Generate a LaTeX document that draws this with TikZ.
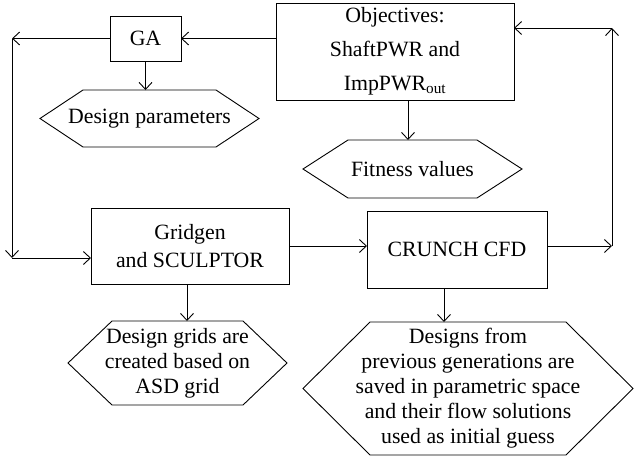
\documentclass[tikz,border=0pt]{standalone}
\usepackage{fontspec}
\setmainfont{Liberation Serif}
\usetikzlibrary{arrows.meta,calc}
\newcommand\dfont{\fontsize{21.8}{25}\selectfont}
\newcommand\hexpath[2]{\draw[hexline] (#1.west) -- ($(#1.north west)+(#2,0)$) -- ($(#1.north east)+(-#2,0)$) -- (#1.east) -- ($(#1.south east)+(-#2,0)$) -- ($(#1.south west)+(#2,0)$) -- cycle;}
\begin{document}
\begin{tikzpicture}[x=1pt,y=1pt,
  box/.style={draw, line width=0.9pt, inner sep=0pt, outer sep=0pt, align=center, font=\dfont},
  hexn/.style={inner sep=0pt, outer sep=0pt, align=center, font=\dfont},
  arr/.style={line width=0.9pt, -{Straight Barb[length=7pt,width=13pt]}},
  hexline/.style={line width=0.9pt, line join=miter}]
\useasboundingbox (0,0) rectangle (634,-456);
% boxes
\node[box, minimum width=71pt, minimum height=45pt] (ga) at (145.5,-38.5) {GA};
\node[box, minimum width=238pt, minimum height=97pt, font=\fontsize{21.8}{34}\selectfont] (obj) at (395,-51.5) {Objectives:\\ShaftPWR and\\ImpPWR\textsubscript{out}};
\node[box, minimum width=198pt, minimum height=76pt, font=\fontsize{21.8}{28}\selectfont] (grid) at (190,-246) {Gridgen\\and SCULPTOR};
\node[box, minimum width=180pt, minimum height=77pt] (cfd) at (457,-249.5) {CRUNCH CFD};
% hexagons
\node[hexn, minimum width=219pt, minimum height=57pt] (dp) at (149.5,-118.5) {Design parameters};
\hexpath{dp}{43}
\node[hexn, minimum width=219pt, minimum height=58pt] (fv) at (412.5,-169) {Fitness values};
\hexpath{fv}{45}
\node[hexn, minimum width=219pt, minimum height=84pt] (dg) at (177.5,-363) {Design grids are\\created based on\\ASD grid};
\hexpath{dg}{44}
\node[hexn, minimum width=330pt, minimum height=133pt] (df) at (468,-388.5) {Designs from\\previous generations are\\saved in parametric space\\and their flow solutions\\used as initial guess};
\hexpath{df}{67}
% helper coordinates
\coordinate (c1) at (12,-38.5);
\coordinate (c2) at (12,-258);
\coordinate (c3) at (612,-246);
\coordinate (c4) at (612,-28);
\coordinate (xfv) at (408,0);
\coordinate (xdg) at (187,0);
\coordinate (xdf) at (444,0);
% connectors
\draw[arr] (obj.west |- ga.east) -- (ga.east);
\draw[arr] (ga.west) -- (c1);
\draw[arr] (c1) -- (c2);
\draw[arr] (c2) -- (c2 -| grid.west);
\draw[arr] (ga.south) -- (ga.south |- dp.north);
\draw[arr] (obj.south -| xfv) -- (fv.north -| xfv);
\draw[arr] (grid.east) -- (grid.east -| cfd.west);
\draw[arr] (cfd.east |- c3) -- (c3);
\draw[arr] (c3) -- (c4);
\draw[arr] (c4) -- (c4 -| obj.east);
\draw[arr] (grid.south -| xdg) -- (dg.north -| xdg);
\draw[arr] (cfd.south -| xdf) -- (df.north -| xdf);
\end{tikzpicture}
\end{document}
